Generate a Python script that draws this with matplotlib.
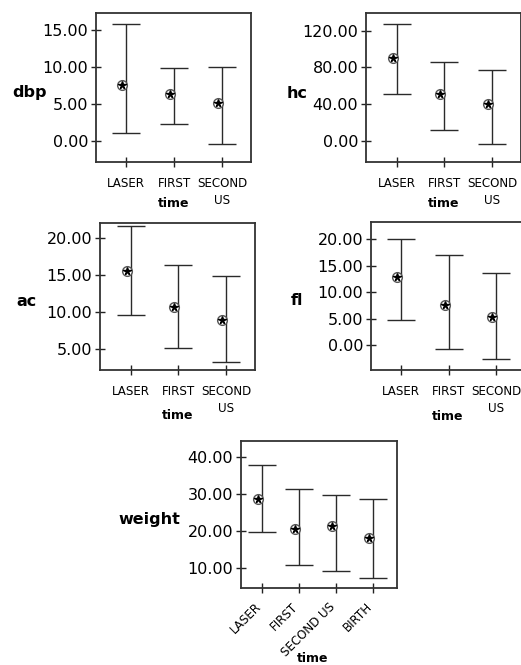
import numpy as np
import matplotlib
matplotlib.use("Agg")
import matplotlib.pyplot as plt
from matplotlib.transforms import ScaledTranslation

plt.rcParams['font.family'] = ['DejaVu Sans']

# categories
cats3 = ['LASER', 'FIRST', 'SECOND\nUS']
cats4 = ['LASER', 'FIRST', 'SECOND US', 'BIRTH']

# mean and 95% interval ends
dbp_mean = [7.53, 6.31, 5.09]
dbp_lo = [1.12, 2.25, -0.45]
dbp_hi = [15.77, 9.90, 10.04]

hc_mean = [89.8, 50.6, 40.3]
hc_lo = [51.2, 11.7, -3.9]
hc_hi = [126.9, 85.5, 77.1]

ac_mean = [15.57, 10.65, 8.97]
ac_lo = [9.60, 5.09, 3.24]
ac_hi = [21.63, 16.38, 14.90]

fl_mean = [12.77, 7.55, 5.28]
fl_lo = [4.66, -0.82, -2.70]
fl_hi = [20.00, 16.92, 13.64]

weight_mean = [28.72, 20.50, 21.36, 18.00]
weight_lo = [19.60, 10.60, 9.16, 7.10]
weight_hi = [37.90, 31.25, 29.70, 28.70]

W, H = 521, 665
fig = plt.figure(figsize=(W / 100, H / 100), dpi=100)


def px_axes(left, top, right, bottom):
    return fig.add_axes([left / W, 1 - bottom / H, (right - left) / W, (bottom - top) / H])


def draw_panel(ax, cats, mean, lo, hi, ylim, yticks, name, name_xy, time_xy, xlim, rotate=False):
    x = np.arange(1, len(cats) + 1)
    mean = np.array(mean)
    lo = np.array(lo)
    hi = np.array(hi)
    ax.errorbar(x, mean, yerr=[mean - lo, hi - mean], fmt='none', ecolor='#2a2a2a',
                elinewidth=1.0, capsize=10, capthick=1.0)
    # marker sits a little left of the bar, like the original
    shift = ax.transData + ScaledTranslation(-4 / 100, 0, fig.dpi_scale_trans)
    ax.plot(x, mean, 'o', ms=7, mfc='white', mec='#555555', mew=1.0, transform=shift)
    ax.plot(x, mean, '*', ms=5.5, color='black', transform=shift)
    ax.set_xlim(*xlim)
    ax.set_ylim(*ylim)
    ax.set_yticks(yticks)
    ax.set_yticklabels(['%.2f' % v for v in yticks], fontsize=11.5)
    ax.set_xticks(x)
    if rotate:
        ax.set_xticklabels(cats, fontsize=8.6, rotation=45, ha='right', va='baseline',
                           rotation_mode='anchor')
    else:
        ax.set_xticklabels(cats, fontsize=8.6, linespacing=1.45)
    ax.tick_params(axis='both', direction='inout', length=7, width=1.0, color='#222222')
    ax.tick_params(axis='y', pad=2)
    ax.tick_params(axis='x', pad=7 if not rotate else 10)
    for s in ax.spines.values():
        s.set_linewidth(1.3)
        s.set_color('#333333')
    ax.text(name_xy[0], name_xy[1], name, transform=ax.transAxes, ha='center',
            va='baseline', fontsize=11.5, fontweight='bold')
    ax.text(time_xy[0], time_xy[1], 'time', transform=ax.transAxes, ha='center',
            va='baseline', fontsize=9, fontweight='bold')


ax1 = px_axes(96, 13, 251, 162)
draw_panel(ax1, cats3, dbp_mean, dbp_lo, dbp_hi, (-2.84, 17.3), [0, 5, 10, 15],
           'dbp', (-0.426, 0.438), (0.5, -0.302), (0.37, 3.6))

ax2 = px_axes(366, 13, 520.7, 162)
draw_panel(ax2, cats3, hc_mean, hc_lo, hc_hi, (-23.2, 139.3), [0, 40, 80, 120],
           'hc', (-0.442, 0.43), (0.5, -0.302), (0.36, 3.6))

ax3 = px_axes(100, 222.7, 255, 370)
draw_panel(ax3, cats3, ac_mean, ac_lo, ac_hi, (2.15, 22.1), [5, 10, 15, 20],
           'ac', (-0.477, 0.434), (0.5, -0.333), (0.36, 3.6))

ax4 = px_axes(370.7, 221.7, 524.7, 370)
draw_panel(ax4, cats3, fl_mean, fl_lo, fl_hi, (-4.7, 23.3), [0, 5, 10, 15, 20],
           'fl', (-0.479, 0.438), (0.5, -0.337), (0.36, 3.6))

ax5 = px_axes(241, 441, 396.7, 588.3)
draw_panel(ax5, cats4, weight_mean, weight_lo, weight_hi, (4.4, 44.4), [10, 20, 30, 40],
           'weight', (-0.588, 0.437), (0.463, -0.5), (0.445, 4.64), rotate=True)

fig.savefig('out.png', dpi=100)
